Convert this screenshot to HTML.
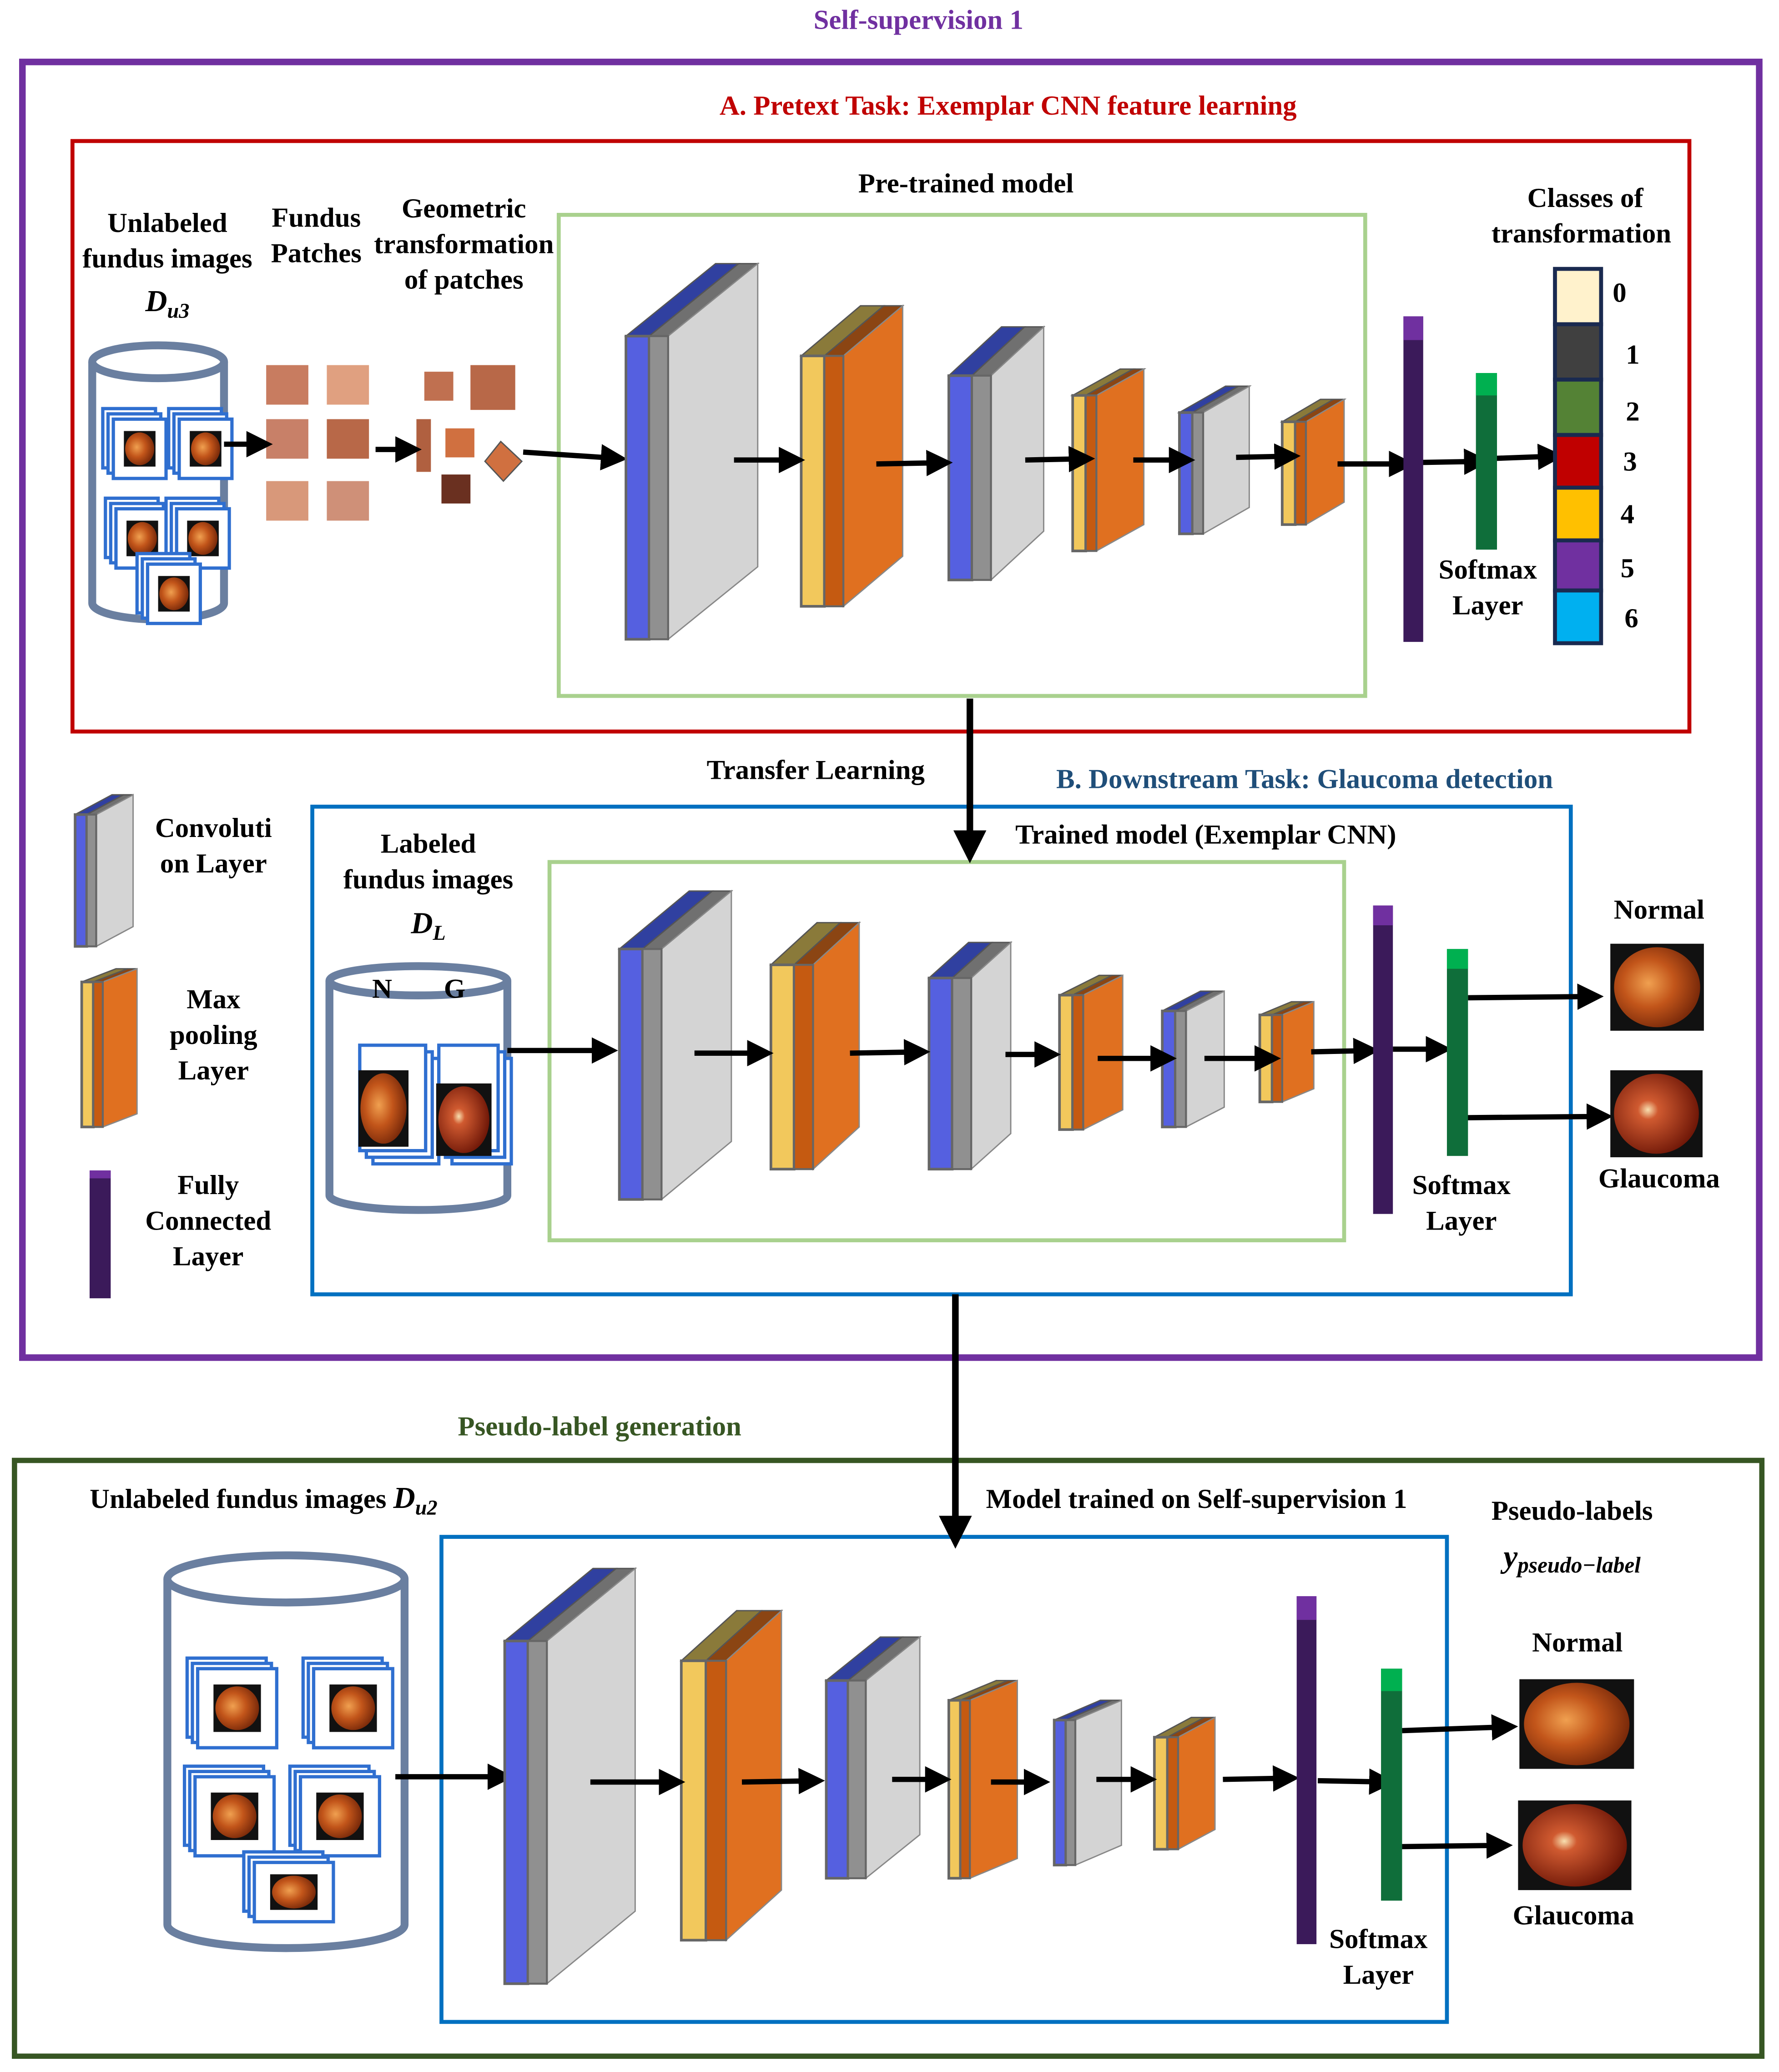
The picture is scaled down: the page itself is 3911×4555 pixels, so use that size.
<!DOCTYPE html>
<html><head><meta charset="utf-8"><style>
html,body{margin:0;padding:0;background:#fff}
svg{display:block}
text{font-family:"Liberation Serif",serif;font-weight:bold;font-size:21px;text-anchor:middle;fill:#000}
</style></head><body>
<svg id="s" width="3911" height="4555" viewBox="0 0 1350 1572" preserveAspectRatio="none" xmlns="http://www.w3.org/2000/svg">
<defs>
<radialGradient id="fg" cx="0.4" cy="0.45" r="0.6"><stop offset="0" stop-color="#f0a050"/><stop offset="0.5" stop-color="#c2551a"/><stop offset="1" stop-color="#7a2a0a"/></radialGradient>
<radialGradient id="gg" cx="0.4" cy="0.45" r="0.6"><stop offset="0" stop-color="#f8e0b0"/><stop offset="0.2" stop-color="#d05a30"/><stop offset="1" stop-color="#701808"/></radialGradient>
<marker id="ah" markerWidth="5" markerHeight="5" refX="4" refY="2.5" orient="auto" markerUnits="strokeWidth"><path d="M0,0 L5,2.5 L0,5 z" fill="#000"/></marker>
</defs>
<rect x="17" y="47" width="1318" height="983" fill="none" stroke="#7030a0" stroke-width="5"/>
<rect x="55" y="107" width="1227" height="448" fill="none" stroke="#c00000" stroke-width="3"/>
<rect x="424" y="163" width="612" height="365" fill="none" stroke="#a9d18e" stroke-width="3"/>
<rect x="237" y="612" width="955" height="370" fill="none" stroke="#0070c0" stroke-width="3"/>
<rect x="417" y="654" width="603" height="287" fill="none" stroke="#a9d18e" stroke-width="3"/>
<rect x="11" y="1108" width="1326" height="452" fill="none" stroke="#375623" stroke-width="4"/>
<rect x="335" y="1166" width="763" height="368" fill="none" stroke="#0070c0" stroke-width="3"/>
<g id="g"></g>
<text x="697" y="22" style="fill:#7030a0">Self-supervision 1</text>
<text x="765" y="87" style="fill:#c00000">A.  Pretext Task: Exemplar CNN feature learning</text>
<text x="733" y="146">Pre-trained model</text>
<text x="127" y="176">Unlabeled</text><text x="127" y="203">fundus images</text>
<text x="127" y="236" style="font-style:italic;font-size:23px">D<tspan font-size="16" dy="5">u3</tspan></text>
<text x="240" y="172">Fundus</text><text x="240" y="199">Patches</text>
<text x="352" y="165">Geometric</text><text x="352" y="192">transformation</text><text x="352" y="219">of patches</text>
<text x="1203" y="157">Classes of</text><text x="1200" y="184">transformation</text>
<text x="1229" y="229">0</text><text x="1239" y="276">1</text><text x="1239" y="319">2</text><text x="1237" y="357">3</text><text x="1235" y="397">4</text><text x="1235" y="438">5</text><text x="1238" y="476">6</text>
<text x="1129" y="439">Softmax</text><text x="1129" y="466">Layer</text>
<text x="619" y="591">Transfer Learning</text>
<text x="990" y="598" style="fill:#1f4e79">B.  Downstream Task: Glaucoma detection</text>
<text x="915" y="640">Trained model (Exemplar CNN)</text>
<text x="162" y="635">Convoluti</text><text x="162" y="662">on Layer</text>
<text x="162" y="765">Max</text><text x="162" y="792">pooling</text><text x="162" y="819">Layer</text>
<text x="158" y="906">Fully</text><text x="158" y="933">Connected</text><text x="158" y="960">Layer</text>
<text x="325" y="647">Labeled</text><text x="325" y="674">fundus images</text>
<text x="325" y="708" style="font-style:italic;font-size:23px">D<tspan font-size="16" dy="5">L</tspan></text>
<text x="290" y="757">N</text><text x="345" y="757">G</text>
<text x="1259" y="697">Normal</text><text x="1259" y="901">Glaucoma</text>
<text x="1109" y="906">Softmax</text><text x="1109" y="933">Layer</text>
<text x="455" y="1089" style="fill:#375623">Pseudo-label generation</text>
<text x="200" y="1144">Unlabeled fundus images <tspan style="font-style:italic;font-size:23px">D</tspan><tspan font-size="16" dy="5" style="font-style:italic">u2</tspan></text>
<text x="908" y="1144">Model trained on Self-supervision 1</text>
<text x="1193" y="1153">Pseudo-labels</text>
<text x="1193" y="1189" style="font-style:italic;font-size:24px">y<tspan font-size="17" dy="4">pseudo−label</tspan></text>
<text x="1197" y="1253">Normal</text><text x="1194" y="1460">Glaucoma</text>
<text x="1046" y="1478">Softmax</text><text x="1046" y="1505">Layer</text>
</svg>
<script>
var g=document.getElementById('g'),h='';
function P(pts,f,s){h+='<polygon points="'+pts.map(function(p){return p.join(',')}).join(' ')+'" fill="'+f+'" stroke="'+(s||'#555')+'" stroke-width="1"/>';}
function R(x,y,w,hh,f,s,sw){h+='<rect x="'+x+'" y="'+y+'" width="'+w+'" height="'+hh+'" fill="'+f+'" stroke="'+(s||'none')+'" stroke-width="'+(sw||1)+'"/>';}
function blk(x,y,fw,H,R2,T,pool){
 var dx=R2-(x+fw),dy=T-y;
 var c1=pool?'#f2c85c':'#5560e0',c2=pool?'#c55a11':'#909090',side=pool?'#e07020':'#d4d4d4',t1=pool?'#8a7a3a':'#3040a0',t2=pool?'#8b4513':'#707070';
 var a=fw*0.55;
 P([[x,y],[x+dx,y+dy],[x+a+dx,y+dy],[x+a,y]],t1);
 P([[x+a,y],[x+a+dx,y+dy],[x+fw+dx,y+dy],[x+fw,y]],t2);
 P([[x+fw,y],[x+fw+dx,y+dy],[x+fw+dx,y+H+dy],[x+fw,y+H]],side,'#888');
 R(x,y,a,H,c1,'#666',2);R(x+a,y,fw-a,H,c2,'#666',1.5);
}
function A(x1,y1,x2,y2,w){h+='<line x1="'+x1+'" y1="'+y1+'" x2="'+x2+'" y2="'+y2+'" stroke="#000" stroke-width="'+(w||4)+'" marker-end="url(#ah)"/>';}
function bar(x,y,w,H,tc,bc,th){R(x,y,w,H,bc);R(x,y,w,th,tc);}
function fund(x,y,w,H,gl){R(x,y,w,H,'#111');h+='<ellipse cx="'+(x+w/2)+'" cy="'+(y+H/2)+'" rx="'+(w*0.46)+'" ry="'+(H*0.46)+'" fill="url(#'+(gl?'gg':'fg')+')"/>';}
function cyl(x,y,w,H){var rx=w/2,ry=H*0.06;
 h+='<path d="M'+x+','+(y+ry)+' L'+x+','+(y+H-ry)+' A'+rx+','+ry+' 0 0 0 '+(x+w)+','+(y+H-ry)+' L'+(x+w)+','+(y+ry)+'" fill="#fff" stroke="#6a7fa0" stroke-width="6"/>';
 h+='<ellipse cx="'+(x+rx)+'" cy="'+(y+ry)+'" rx="'+rx+'" ry="'+ry+'" fill="#fff" stroke="#6a7fa0" stroke-width="6"/>';}
function stack(x,y,w,H){for(var i=2;i>=0;i--){R(x-i*4+8,y-i*4+8,w,H,'#fff','#2f6fd0',2.5);}fund(x+w*0.2+8,y+H*0.2+8,w*0.6,H*0.6);}
cyl(70,262,100,208);
stack(78,310,40,45);stack(128,310,40,45);stack(80,378,40,45);stack(126,378,40,45);stack(104,420,40,45);
var pc=['#c87c60','#e0a080','#c88068','#b86848','#d8987a','#cf9078'];
[[202,277],[248,277],[202,318],[248,318],[202,365],[248,365]].forEach(function(p,i){R(p[0],p[1],32,30,pc[i]);});
R(322,282,22,22,'#c07050');R(357,277,34,34,'#b86848');R(316,318,11,40,'#b06040');R(338,325,22,22,'#d07040');
P([[368,350],[380,335],[396,350],[382,365]],'#d07040');R(335,360,22,22,'#6a3020');
A(170,337,203,337);A(285,341,316,341);A(397,343,472,348);
blk(475,255,32,230,575,200,0);blk(608,270,32,190,685,232,1);blk(720,285,32,155,792,248,0);
blk(814,300,18,118,868,280,1);blk(895,313,18,92,948,293,0);blk(973,320,18,78,1020,303,1);
A(557,349,607,349);A(665,352,719,351);A(778,349,827,348);A(860,349,903,349);A(938,347,983,346);A(1015,352,1070,352);A(1070,351,1127,350);A(1128,348,1183,346);
bar(1065,240,15,247,'#7030a0','#3b1a5a',18);bar(1120,283,16,134,'#00b050','#0f6e3a',17);
var cc=['#fff2cc','#404040','#548235','#c00000','#ffc000','#7030a0','#00b0f0'];
var cy=[204,246,288,330,370,410,448,488];
for(var i=0;i<7;i++)R(1180,cy[i],35,cy[i+1]-cy[i],cc[i],'#1a2a50',3);
A(736,530,736,650,5);
blk(57,618,16,100,101,603,0);blk(62,745,16,110,104,735,1);bar(68,888,16,97,'#7030a0','#3b1a5a',6);
cyl(250,733,135,185);
for(var j=0;j<3;j++){R(275-j*5+8,795-j*5+8,50,80,'#fff','#2f6fd0',2.5);R(335-j*5+8,795-j*5+8,45,80,'#fff','#2f6fd0',2.5);}
fund(272,812,38,58);fund(331,822,42,55,1);
A(385,797,465,797);
blk(470,720,32,190,555,676,0);blk(585,732,32,155,652,700,1);blk(705,742,32,145,767,715,0);
blk(804,755,18,102,852,740,1);blk(882,767,18,88,929,752,0);blk(956,770,17,66,997,760,1);
A(527,799,583,799);A(645,799,702,798);A(763,800,801,800);A(833,803,889,803);A(914,803,968,803);A(995,798,1043,797);A(1057,796,1098,796);A(1114,757,1213,756);A(1110,848,1220,847);
bar(1042,687,15,234,'#7030a0','#3b1a5a',15);bar(1098,720,16,157,'#00b050','#0f6e3a',15);
fund(1222,716,71,66);fund(1222,812,70,66,1);
A(725,982,725,1170,5);
cyl(127,1180,180,298);
stack(142,1258,60,60);stack(230,1258,60,60);stack(140,1340,60,60);stack(220,1340,60,60);stack(185,1405,60,45);
A(300,1348,386,1348);
blk(383,1245,32,260,482,1190,0);blk(517,1260,34,212,593,1222,1);blk(627,1275,30,150,698,1242,0);
blk(720,1290,16,135,772,1275,1);blk(800,1305,16,110,851,1290,0);blk(876,1318,18,85,922,1303,1);
A(448,1352,516,1352);A(563,1352,622,1351);A(677,1350,718,1350);A(752,1352,793,1352);A(832,1350,874,1350);A(928,1350,982,1349);A(1000,1351,1055,1352);A(1064,1313,1148,1310);A(1064,1401,1144,1400);
bar(984,1211,15,264,'#7030a0','#3b1a5a',18);bar(1048,1266,16,176,'#00b050','#0f6e3a',17);
fund(1153,1274,87,68);fund(1152,1366,86,68,1);
g.innerHTML=h;
</script>
</body></html>
